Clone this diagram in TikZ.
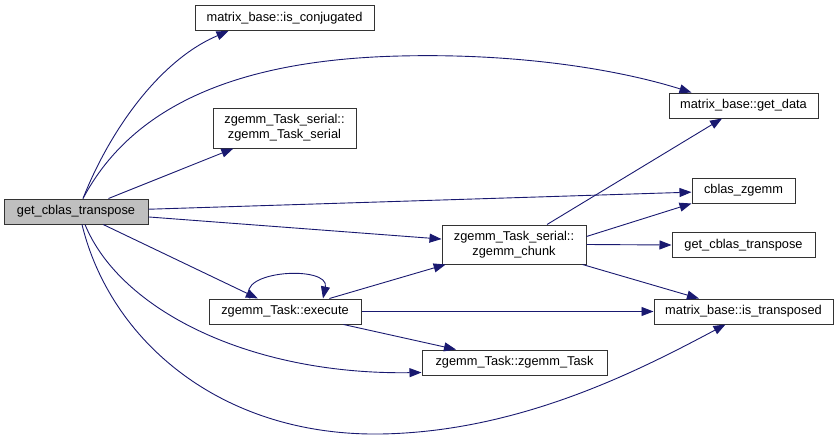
\documentclass[tikz,border=0pt]{standalone}
\usepackage{fontspec}
\setmainfont{Liberation Sans}
\usepackage{tikz}
\usetikzlibrary{arrows.meta}
\definecolor{edgeblue}{HTML}{191970}
\definecolor{boxgray}{HTML}{BFBFBF}

\begin{document}
\begin{tikzpicture}[
            x=1pt, y=-1pt,
            fn/.style={rectangle, draw=black!80, line width=1pt, fill=white,
                       minimum height=25pt, inner sep=2pt, align=center,
                       font=\fontsize{12.8}{15}\selectfont},
            cur/.style={fn, fill=boxgray},
            call/.style={draw=edgeblue, line width=0.9pt,
                         -{Triangle[length=12pt, width=9pt]}}
        ]
        \useasboundingbox (0,0) rectangle (839,439);

        % Caller node
        \node[cur, minimum width=144pt] (src) at (76,211.5) {get\_cblas\_transpose};

        % Middle column nodes
        \node[fn, minimum width=179pt] (conj) at (284.5,18)  {matrix\_base::is\_conjugated};
        \node[fn, minimum width=143pt, minimum height=40pt] (tser) at (284.5,128)
            {zgemm\_Task\_serial::\\zgemm\_Task\_serial};
        \node[fn, minimum width=152pt] (exec) at (285,311.5) {zgemm\_Task::execute};
        \node[fn, minimum width=185pt] (ztask) at (514.5,362.5) {zgemm\_Task::zgemm\_Task};
        \node[fn, minimum width=144pt, minimum height=39pt] (chunk) at (514,244.5)
            {zgemm\_Task\_serial::\\zgemm\_chunk};

        % Right column nodes
        \node[fn, minimum width=149pt] (data)  at (743.5,105.5) {matrix\_base::get\_data};
        \node[fn, minimum width=103pt] (cblas) at (743.5,190.5) {cblas\_zgemm};
        \node[fn, minimum width=143pt] (gct)   at (743.5,245)   {get\_cblas\_transpose};
        \node[fn, minimum width=179pt] (trans) at (743.5,311.5) {matrix\_base::is\_transposed};

        % Calls from get_cblas_transpose
        \draw[call] ([xshift=7pt]src.north) .. controls (110,130) and (160,60) .. ([xshift=-56pt]conj.south);
        \draw[call] ([xshift=7pt]src.north) .. controls (130,110) and (230,60) .. (400,56)
                    .. controls (520,53) and (620,70) .. ([xshift=-52pt]data.north);
        \draw[call] (src) -- (tser);
        \draw[call] (src) -- (cblas);
        \draw[call] (src) -- (chunk);
        \draw[call] (src) -- (exec);
        \draw[call] ([xshift=9pt]src.south) .. controls (120,310) and (250,375) .. ([yshift=-10pt]ztask.west);
        \draw[call] ([xshift=6pt]src.south) .. controls (110,340) and (220,436) .. (380,434)
                    .. controls (520,432) and (640,370) .. ([xshift=-18pt]trans.south);

        % Calls from zgemm_Task::execute
        \draw[call] ([xshift=-35pt]exec.north) .. controls (235,270) and (330,265) .. ([xshift=38pt]exec.north);
        \draw[call] (exec) -- (chunk);
        \draw[call] (exec) -- (trans);
        \draw[call] (exec) -- (ztask);

        % Calls from zgemm_chunk
        \draw[call] (chunk) -- (data);
        \draw[call] ([yshift=8pt]chunk.east) -- (cblas.south west);
        \draw[call] (chunk.east) -- (gct.west);
        \draw[call] (chunk) -- (trans);
    \end{tikzpicture}
\end{document}
